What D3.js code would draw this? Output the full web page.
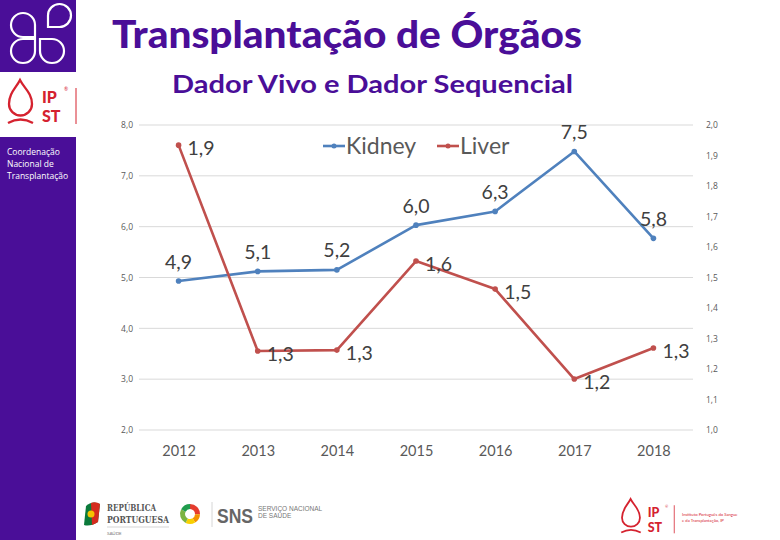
<!DOCTYPE html>
<html><head><meta charset="utf-8">
<script src="https://cdn.jsdelivr.net/npm/d3@7"></script>
<style>
html,body{margin:0;padding:0;background:#fff;}
svg{display:block;font-family:Lato,"Open Sans",sans-serif;}
</style></head>
<body>
<svg id="chart" width="780" height="540"></svg>
<script>
const years = ["2012","2013","2014","2015","2016","2017","2018"];
const kidney = [4.93, 5.12, 5.15, 6.03, 6.30, 7.48, 5.77];
const kidneyLabels = ["4,9","5,1","5,2","6,0","6,3","7,5","5,8"];
const liver = [1.934, 1.259, 1.262, 1.554, 1.462, 1.167, 1.269];
const liverLabels = ["1,9","1,3","1,3","1,6","1,5","1,2","1,3"];
const leftTicks = [2,3,4,5,6,7,8];
const rightTicks = [1.0,1.1,1.2,1.3,1.4,1.5,1.6,1.7,1.8,1.9,2.0];
const seriesNames = ["Kidney","Liver"];
const title = "Transplantação de Órgãos";
const subtitle = "Dador Vivo e Dador Sequencial";

const svg = d3.select("#chart");
const purple = "#4a0e98";
const blue = "#4f81bd", red = "#c0504d", ipRed = "#d5222f";
const fmt = v => v.toFixed(1).replace(".", ",");

// sidebar
svg.append("rect").attr("x",0).attr("y",0).attr("width",76).attr("height",540).attr("fill",purple);
svg.append("rect").attr("x",0).attr("y",72).attr("width",76).attr("height",65).attr("fill","#fff");
// petal logo (square-corner teardrops pointing to the centre)
const petals = [
  {cx:35, cy:37, dx:-1, dy:-1, r:12},
  {cx:48, cy:27, dx:1, dy:-1, r:11.5},
  {cx:35, cy:39, dx:-1, dy:1, r:12},
  {cx:40, cy:39, dx:1, dy:1, r:12}
];
const pg = svg.append("g").attr("fill","none").attr("stroke","#fff").attr("stroke-width",2.2);
petals.forEach(p => {
  const x0=p.cx, y0=p.cy, r=p.r;
  const ccx = x0 + p.dx*r, ccy = y0 + p.dy*r;
  const sweep = (p.dx*p.dy>0)?1:0;
  pg.append("path").attr("d",
    `M${x0},${y0} L${ccx},${y0} A${r},${r} 0 1 ${sweep} ${x0},${ccy} Z`);
});
// IPST logo
function ipst(g, x, y, s){
  const gg = g.append("g").attr("transform",`translate(${x},${y}) scale(${s})`);
  gg.append("path").attr("d","M11,0 C15,8 23,13 23,24 A11.5,11.5 0 1 1 0,24 C0,13 7,8 11,0 Z")
    .attr("fill","none").attr("stroke",ipRed).attr("stroke-width",2.3);
  gg.append("path").attr("d","M-1,43 Q11.5,36 24,43").attr("fill","none").attr("stroke",ipRed).attr("stroke-width",2.3);
  gg.append("text").attr("x",33).attr("y",23).attr("font-size",16).attr("font-weight",900).attr("fill",ipRed).text("IP");
  gg.append("text").attr("x",33).attr("y",42).attr("font-size",16).attr("font-weight",900).attr("fill",ipRed).text("ST");
  gg.append("text").attr("x",55).attr("y",11).attr("font-size",5).attr("fill",ipRed).text("®");
  gg.append("line").attr("x1",67).attr("x2",67).attr("y1",8).attr("y2",44).attr("stroke",ipRed).attr("stroke-width",1);
  return gg;
}
ipst(svg, 9, 80, 1);
const sideText = ["Coordenação","Nacional de","Transplantação"];
svg.append("g").selectAll("text").data(sideText).join("text")
  .attr("x",7).attr("y",(d,i)=>155+i*12).attr("font-size",8.5).attr("fill","#fff")
  .attr("font-family","'Open Sans',sans-serif").text(d=>d);

// titles
svg.append("text").attr("x",112).attr("y",48).attr("font-size",38).attr("font-weight",900)
  .attr("fill",purple).attr("textLength",470).attr("lengthAdjust","spacingAndGlyphs").text(title);
svg.append("text").attr("x",172).attr("y",93).attr("font-size",25).attr("font-weight",700)
  .attr("fill",purple).attr("textLength",401).attr("lengthAdjust","spacingAndGlyphs").text(subtitle);

// chart
const x0 = 139, x1 = 693, yTop = 125, yBot = 430;
const x = d3.scalePoint().domain(years).range([x0, x1]).padding(0.5);
const yL = d3.scaleLinear().domain([2,8]).range([yBot, yTop]);
const yR = d3.scaleLinear().domain([1,2]).range([yBot, yTop]);

svg.append("g").selectAll("line").data(leftTicks).join("line")
  .attr("x1",x0).attr("x2",x1).attr("y1",d=>yL(d)).attr("y2",d=>yL(d))
  .attr("stroke","#d9d9d9").attr("stroke-width",1);

const axL = svg.append("g").attr("transform",`translate(${x0},0)`)
  .call(d3.axisLeft(yL).tickValues(leftTicks).tickFormat(fmt).tickSize(0).tickPadding(6));
axL.select(".domain").remove();
axL.selectAll("text").attr("font-size",8.5).attr("fill","#595959").attr("font-family","'Open Sans',sans-serif");
const axR = svg.append("g").attr("transform",`translate(${x1},0)`)
  .call(d3.axisRight(yR).tickValues(rightTicks).tickFormat(fmt).tickSize(0).tickPadding(13));
axR.select(".domain").remove();
axR.selectAll("text").attr("font-size",8.5).attr("fill","#595959").attr("font-family","'Open Sans',sans-serif");
const axX = svg.append("g").attr("transform",`translate(0,${yBot})`)
  .call(d3.axisBottom(x).tickSize(0).tickPadding(16));
axX.select(".domain").remove();
axX.selectAll("text").attr("font-size",14.5).attr("fill","#595959").attr("font-family","Lato,sans-serif");

const lineK = d3.line().x((d,i)=>x(years[i])).y(d=>yL(d));
const lineLv = d3.line().x((d,i)=>x(years[i])).y(d=>yR(d));
svg.append("path").datum(kidney).attr("d",lineK).attr("fill","none").attr("stroke",blue)
  .attr("stroke-width",2.6).attr("stroke-linejoin","round");
svg.append("path").datum(liver).attr("d",lineLv).attr("fill","none").attr("stroke",red)
  .attr("stroke-width",2.6).attr("stroke-linejoin","round");
svg.append("g").selectAll("circle").data(kidney).join("circle")
  .attr("cx",(d,i)=>x(years[i])).attr("cy",d=>yL(d)).attr("r",2.8).attr("fill",blue);
svg.append("g").selectAll("circle").data(liver).join("circle")
  .attr("cx",(d,i)=>x(years[i])).attr("cy",d=>yR(d)).attr("r",2.8).attr("fill",red);

svg.append("g").selectAll("text").data(kidney).join("text")
  .attr("x",(d,i)=>x(years[i])).attr("y",d=>yL(d)-12.5).attr("text-anchor","middle")
  .attr("font-size",19.5).attr("fill","#404040").text((d,i)=>kidneyLabels[i]);
svg.append("g").selectAll("text").data(liver).join("text")
  .attr("x",(d,i)=>x(years[i])+9).attr("y",d=>yR(d)+10).attr("text-anchor","start")
  .attr("font-size",19.5).attr("fill","#404040").text((d,i)=>liverLabels[i]);

// legend
const leg = svg.append("g");
const legItems = [{name:seriesNames[0], c:blue, x:323},{name:seriesNames[1], c:red, x:437}];
legItems.forEach(l=>{
  leg.append("line").attr("x1",l.x).attr("x2",l.x+22).attr("y1",146).attr("y2",146)
    .attr("stroke",l.c).attr("stroke-width",2.6);
  leg.append("circle").attr("cx",l.x+11).attr("cy",146).attr("r",2.5).attr("fill",l.c);
  leg.append("text").attr("x",l.x+23).attr("y",154).attr("font-size",23).attr("fill","#595959").text(l.name);
});

// bottom logos
const bl = svg.append("g");
bl.append("path").attr("d","M86,506 Q92,500 100,504 L98,522 Q90,527 84,525 Z").attr("fill","#0b7a3b");
bl.append("path").attr("d","M91,503 Q96,501 100,504 L98,522 Q95,524 92,525 Z").attr("fill","#d52b1e");
bl.append("circle").attr("cx",91).attr("cy",514).attr("r",3.5).attr("fill","#f5c400");
bl.append("text").attr("x",107).attr("y",511).attr("font-size",10).attr("font-weight",700)
  .attr("font-family","'DejaVu Serif',serif").attr("fill","#555").attr("textLength",49).attr("lengthAdjust","spacingAndGlyphs").text("REPÚBLICA");
bl.append("text").attr("x",107).attr("y",523).attr("font-size",10).attr("font-weight",700)
  .attr("font-family","'DejaVu Serif',serif").attr("fill","#555").attr("textLength",62).attr("lengthAdjust","spacingAndGlyphs").text("PORTUGUESA");
bl.append("line").attr("x1",107).attr("x2",169).attr("y1",527).attr("y2",527).attr("stroke","#bbb").attr("stroke-width",0.6);
bl.append("text").attr("x",107).attr("y",535).attr("font-size",4.5).attr("fill","#777").text("SAÚDE");
const ring = [["#e63b2e",0,1.6],["#f39200",1.6,2.6],["#f8d000",2.6,3.6],["#7cb342",3.6,5.2],["#1f9d4d",5.2,6.3]];
ring.forEach(r=>{
  bl.append("path").attr("transform","translate(190,514)")
    .attr("d",d3.arc().innerRadius(5).outerRadius(10).startAngle(r[1]).endAngle(r[2])()).attr("fill",r[0]);
});
bl.append("line").attr("x1",212).attr("x2",212).attr("y1",502).attr("y2",527).attr("stroke","#ccc").attr("stroke-width",0.8);
bl.append("text").attr("x",217).attr("y",523).attr("font-size",21).attr("font-weight",700).attr("fill","#666")
  .attr("font-family","'Liberation Sans',sans-serif").attr("textLength",36).attr("lengthAdjust","spacingAndGlyphs").text("SNS");
bl.append("text").attr("x",258).attr("y",511).attr("font-size",6.5).attr("fill","#777")
  .attr("font-family","'Liberation Sans Narrow','Liberation Sans',sans-serif").text("SERVIÇO NACIONAL");
bl.append("text").attr("x",258).attr("y",518).attr("font-size",6.5).attr("fill","#777")
  .attr("font-family","'Liberation Sans Narrow','Liberation Sans',sans-serif").text("DE SAÚDE");
ipst(svg, 622, 499, 0.78);
svg.append("text").attr("x",682).attr("y",516).attr("font-size",4.2).attr("fill",ipRed).text("Instituto Português do Sangue");
svg.append("text").attr("x",682).attr("y",522).attr("font-size",4.2).attr("fill",ipRed).text("e da Transplantação, IP");
</script>
</body></html>
